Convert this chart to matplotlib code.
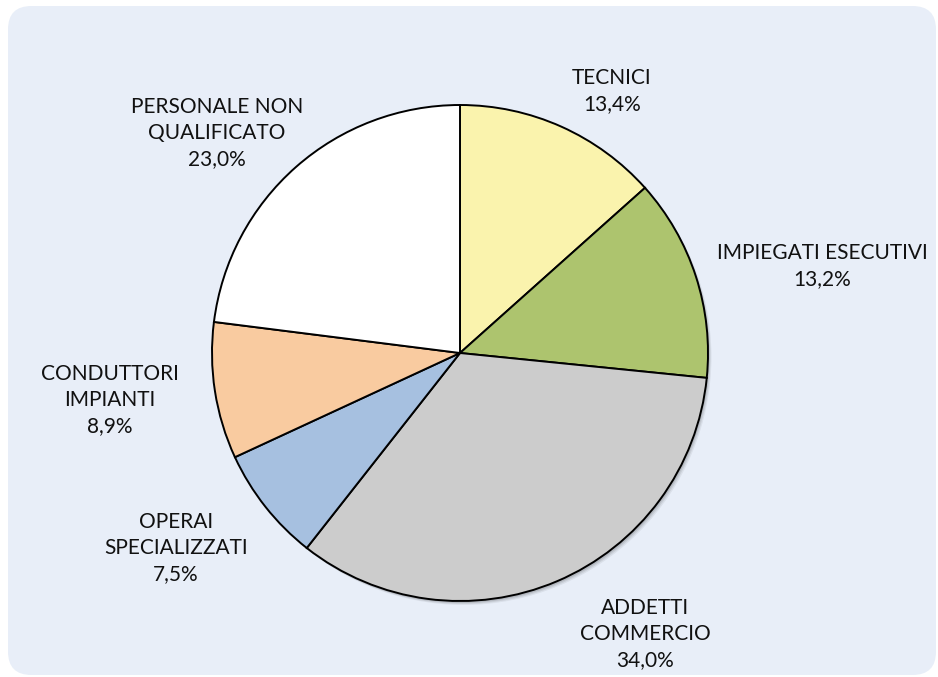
import matplotlib
matplotlib.use("Agg")
import matplotlib.pyplot as plt
import matplotlib.patches as patches

# Data (percent shares)
categories = ["TECNICI", "IMPIEGATI ESECUTIVI", "ADDETTI\nCOMMERCIO",
              "OPERAI\nSPECIALIZZATI", "CONDUTTORI\nIMPIANTI",
              "PERSONALE NON\nQUALIFICATO"]
values = [13.4, 13.2, 34.0, 7.5, 8.9, 23.0]
colors = ["#faf3ad", "#adc46e", "#cccccc", "#a6c0e0", "#f9cba0", "#ffffff"]

# label centres in pixel coords (x, y from top)
label_pos = [(612, 91), (822, 266), (645, 634), (176, 548), (110, 400), (217, 133)]

W, H = 938, 677
plt.rcParams['font.family'] = ['Lato', 'DejaVu Sans']

fig = plt.figure(figsize=(W / 100, H / 100), dpi=100)
fig.patch.set_facecolor("white")

# rounded light blue background panel
bg = patches.FancyBboxPatch((8 / W, (H - 675) / H), (936 - 8) / W, (675 - 6) / H,
                            boxstyle="round,pad=0,rounding_size=0.025",
                            transform=fig.transFigure, facecolor="#e8eef8",
                            edgecolor="none", mutation_aspect=W / H, zorder=-10)
fig.patches.append(bg)

cx, cy, r = 460, 353, 248
pad = 1.05
ax = fig.add_axes([(cx - r * pad) / W, (H - cy - r * pad) / H, 2 * pad * r / W, 2 * pad * r / H])
ax.patch.set_visible(False)
ax.axis("off")

# soft shadow
for i, a in enumerate([0.10, 0.08, 0.06]):
    sh = patches.Circle((0.006 + i * 0.004, -0.008 - i * 0.004), 1.0,
                        facecolor="black", alpha=a, edgecolor="none", zorder=0)
    ax.add_patch(sh)

ax.pie(values, colors=colors, startangle=90, counterclock=False, radius=1.0,
       wedgeprops=dict(edgecolor="black", linewidth=1.4))
ax.set_xlim(-pad, pad)
ax.set_ylim(-pad, pad)
ax.set_aspect("equal")

for name, v, (x, y) in zip(categories, values, label_pos):
    txt = name + "\n" + f"{v:.1f}".replace(".", ",") + "%"
    fig.text(x / W, 1 - y / H, txt, ha="center", va="center", fontsize=15,
             color="#111111", linespacing=1.35)

fig.savefig("out.png", dpi=100)
